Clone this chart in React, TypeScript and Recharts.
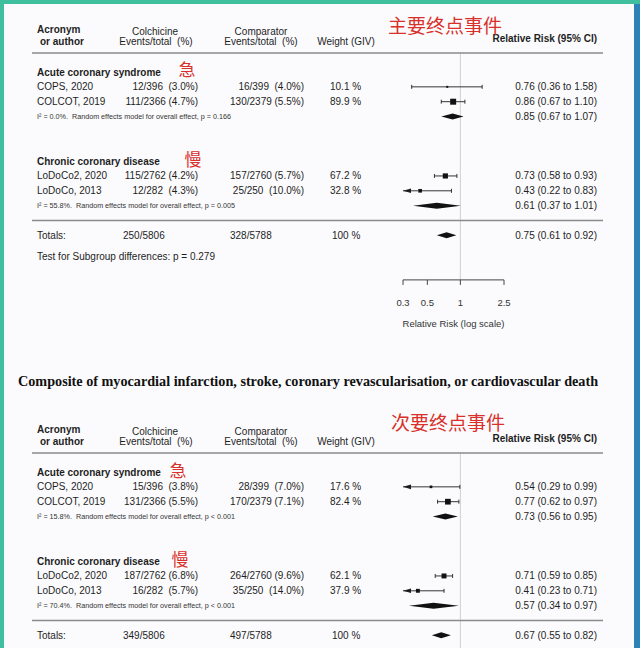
import React from 'react';
import { ComposedChart, XAxis, YAxis, Scatter, ReferenceLine } from 'recharts';

const FONT = '"Liberation Sans", Arial, sans-serif';
const CJK = '"Noto Sans CJK SC", sans-serif';
const INK = '#1e1e1e';
const RED = '#d8302a';

// rows of the table, shared by both panels
const groups = ['Acute coronary syndrome', 'Chronic coronary disease'];
const groupMarks = ['急', '慢'];
const studies = ['COPS, 2020', 'COLCOT, 2019', 'LoDoCo2, 2020', 'LoDoCo, 2013'];
const ticks = [0.3, 0.5, 1, 2.5];

// primary endpoint
const primColchicine = ['12/396  (3.0%)', '111/2366 (4.7%)', '115/2762 (4.2%)', '12/282  (4.3%)'];
const primComparator = ['16/399  (4.0%)', '130/2379 (5.5%)', '157/2760 (5.7%)', '25/250  (10.0%)'];
const primWeight = [10.1, 89.9, 67.2, 32.8];
const primRR = [0.76, 0.86, 0.73, 0.43];
const primLow = [0.36, 0.67, 0.58, 0.22];
const primHigh = [1.58, 1.1, 0.93, 0.83];
const primPoolRR = [0.85, 0.61];
const primPoolLow = [0.67, 0.37];
const primPoolHigh = [1.07, 1.01];
const primHet = ['0.0%', '55.8%'];
const primPoolP = ['p = 0.166', 'p = 0.005'];
const primTotals = ['250/5806', '328/5788'];
const primTotalRR = [0.75, 0.61, 0.92];

// secondary endpoint (composite)
const secColchicine = ['15/396  (3.8%)', '131/2366 (5.5%)', '187/2762 (6.8%)', '16/282  (5.7%)'];
const secComparator = ['28/399  (7.0%)', '170/2379 (7.1%)', '264/2760 (9.6%)', '35/250  (14.0%)'];
const secWeight = [17.6, 82.4, 62.1, 37.9];
const secRR = [0.54, 0.77, 0.71, 0.41];
const secLow = [0.29, 0.62, 0.59, 0.23];
const secHigh = [0.99, 0.97, 0.85, 0.71];
const secPoolRR = [0.73, 0.57];
const secPoolLow = [0.56, 0.34];
const secPoolHigh = [0.95, 0.97];
const secHet = ['15.8%', '70.4%'];
const secPoolP = ['p < 0.001', 'p < 0.001'];
const secTotals = ['349/5806', '497/5788'];
const secTotalRR = [0.67, 0.55, 0.82];

// row slots (in row units of the y axis)
const HEADER_ROW = -2.4;
const HEADER_RULE = -1.28;
const GROUP_ROWS = [0, 6];
const STUDY_ROWS = [1, 2, 7, 8];
const POOL_ROWS = [3, 9];
const SEP_ROW = 10;
const TOTAL_ROW = 11;
const TEST_ROW = 12.4;
const AXIS_ROW = 14;

const X_MIN = 0.3;
const X_MAX = 2.5;

type PanelData = {
  title: string;
  colchicine: string[];
  comparator: string[];
  weight: number[];
  rr: number[];
  low: number[];
  high: number[];
  poolRR: number[];
  poolLow: number[];
  poolHigh: number[];
  het: string[];
  poolP: string[];
  totals: string[];
  totalRR: number[];
  subgroupP: string | null;
  showAxis: boolean;
  titleX: number;
  titleDy: number;
  markX: number[];
  markDy: number[];
};

const primary: PanelData = {
  title: '主要终点事件',
  colchicine: primColchicine, comparator: primComparator, weight: primWeight,
  rr: primRR, low: primLow, high: primHigh,
  poolRR: primPoolRR, poolLow: primPoolLow, poolHigh: primPoolHigh,
  het: primHet, poolP: primPoolP, totals: primTotals, totalRR: primTotalRR,
  subgroupP: 'p = 0.279', showAxis: true,
  titleX: 445, titleDy: -11.4, markX: [187, 193], markDy: [-4, -3],
};

// the secondary panel is cut off by the picture below its totals row
const secondary: PanelData = {
  title: '次要终点事件',
  colchicine: secColchicine, comparator: secComparator, weight: secWeight,
  rr: secRR, low: secLow, high: secHigh,
  poolRR: secPoolRR, poolLow: secPoolLow, poolHigh: secPoolHigh,
  het: secHet, poolP: secPoolP, totals: secTotals, totalRR: secTotalRR,
  subgroupP: null, showAxis: false,
  titleX: 448, titleDy: -14.4, markX: [178, 180], markDy: [-2.5, -3],
};

const fmt = (r: number, lo: number, hi: number) => `${r.toFixed(2)} (${lo.toFixed(2)} to ${hi.toFixed(2)})`;

function T({ x, y, children, anchor = 'start', size = 10, bold = false, color = INK, family = FONT }: any) {
  return (
    <text x={x} y={y} textAnchor={anchor} dominantBaseline="central" fontSize={size}
      fontWeight={bold ? 700 : 400} fill={color} fontFamily={family} style={{ whiteSpace: 'pre' }}>
      {children}
    </text>
  );
}

const ciShape = (cutLo: boolean, cutHi: boolean) => (p: any) => {
  const { x1, x2, y1 } = p;
  return (
    <g>
      <line x1={x1} x2={x2} y1={y1} y2={y1} stroke={INK} strokeWidth={0.9} />
      {cutLo
        ? <polygon points={`${x1},${y1} ${x1 + 8},${y1 - 2.3} ${x1 + 8},${y1 + 2.3}`} fill={INK} />
        : <line x1={x1} x2={x1} y1={y1 - 2} y2={y1 + 2} stroke={INK} strokeWidth={0.9} />}
      {cutHi
        ? <polygon points={`${x2},${y1} ${x2 - 8},${y1 - 2.3} ${x2 - 8},${y1 + 2.3}`} fill={INK} />
        : <line x1={x2} x2={x2} y1={y1 - 2} y2={y1 + 2} stroke={INK} strokeWidth={0.9} />}
    </g>
  );
};

const diamondShape = (lo: number, est: number, hi: number) => (p: any) => {
  const { x1, x2, y1 } = p;
  const xm = x1 + ((x2 - x1) * Math.log(est / lo)) / Math.log(hi / lo);
  return <polygon points={`${x1},${y1} ${xm},${y1 - 3} ${x2},${y1} ${xm},${y1 + 3}`} fill="#111" />;
};

const squareShape = (p: any) => {
  const s = 6.3 * Math.sqrt(p.payload.w / 100);
  return <rect x={p.cx - s / 2} y={p.cy - s / 2} width={s} height={s} fill="#111" />;
};

// text of one table row, drawn at the row's y from the chart's y scale
function rowShape(d: PanelData, r: any) {
  return (p: any) => {
    const cy = p.y1;
    switch (r.kind) {
      case 'header':
        return (
          <g>
            <T x={37} y={cy - 6.4} bold>Acronym</T>
            <T x={40} y={cy + 5.6} bold>or author</T>
            <T x={155} y={cy - 5} anchor="middle">Colchicine</T>
            <T x={156} y={cy + 5.6} anchor="middle">{'Events/total  (%)'}</T>
            <T x={261} y={cy - 5} anchor="middle">Comparator</T>
            <T x={261} y={cy + 5.6} anchor="middle">{'Events/total  (%)'}</T>
            <T x={346} y={cy + 5.6} anchor="middle">Weight (GIV)</T>
            <T x={597} y={cy + 2.6} anchor="end" bold>Relative Risk (95% CI)</T>
            <T x={d.titleX} y={cy + d.titleDy} anchor="middle" size={19} color={RED} family={CJK}>{d.title}</T>
          </g>
        );
      case 'rule':
        return <line x1={32} x2={603} y1={cy} y2={cy} stroke="#8a8a8a" strokeWidth={1.3} />;
      case 'group':
        return (
          <g>
            <T x={37} y={cy} bold>{groups[r.i]}</T>
            <T x={d.markX[r.i]} y={cy + d.markDy[r.i]} anchor="middle" size={17} color={RED} family={CJK}>{groupMarks[r.i]}</T>
          </g>
        );
      case 'study':
        return (
          <g>
            <T x={37} y={cy}>{studies[r.i]}</T>
            <T x={198} y={cy} anchor="end">{d.colchicine[r.i]}</T>
            <T x={304} y={cy} anchor="end">{d.comparator[r.i]}</T>
            <T x={330} y={cy}>{`${d.weight[r.i].toFixed(1)} %`}</T>
            <T x={597} y={cy} anchor="end">{fmt(d.rr[r.i], d.low[r.i], d.high[r.i])}</T>
          </g>
        );
      case 'pool':
        return (
          <g>
            <T x={37} y={cy} size={7.2} color="#333">
              {`I² = ${d.het[r.i]}.  Random effects model for overall effect, ${d.poolP[r.i]}`}
            </T>
            <T x={597} y={cy} anchor="end">{fmt(d.poolRR[r.i], d.poolLow[r.i], d.poolHigh[r.i])}</T>
          </g>
        );
      case 'total':
        return (
          <g>
            <T x={37} y={cy}>Totals:</T>
            <T x={123} y={cy}>{d.totals[0]}</T>
            <T x={230} y={cy}>{d.totals[1]}</T>
            <T x={332} y={cy}>100 %</T>
            <T x={597} y={cy} anchor="end">{fmt(d.totalRR[0], d.totalRR[1], d.totalRR[2])}</T>
          </g>
        );
      case 'test':
        return <T x={37} y={cy}>{`Test for Subgroup differences: ${d.subgroupP}`}</T>;
      default:
        return <g />;
    }
  };
}

function Panel({ d }: { d: PanelData }) {
  const rows: any[] = [
    { y: HEADER_ROW, kind: 'header' },
    { y: HEADER_RULE, kind: 'rule' },
    ...GROUP_ROWS.map((y, i) => ({ y, kind: 'group', i })),
    ...STUDY_ROWS.map((y, i) => ({ y, kind: 'study', i })),
    ...POOL_ROWS.map((y, i) => ({ y, kind: 'pool', i })),
    { y: SEP_ROW, kind: 'rule' },
    { y: TOTAL_ROW, kind: 'total' },
  ];
  if (d.subgroupP) rows.push({ y: TEST_ROW, kind: 'test' });

  const points = studies.map((_, i) => ({ x: d.rr[i], y: STUDY_ROWS[i], w: d.weight[i] }));

  return (
    <ComposedChart width={640} height={340} margin={{ top: 27.45, right: 136, bottom: 5.1, left: 403 }}>
      <XAxis type="number" dataKey="x" scale="log" domain={[X_MIN, X_MAX]} ticks={ticks} allowDataOverflow
        tickSize={5} tickMargin={14} height={55} stroke="#444"
        tick={d.showAxis ? { fontSize: 9.5, fill: '#333', fontFamily: FONT } : false}
        label={d.showAxis ? { value: 'Relative Risk (log scale)', position: 'insideBottom', offset: 8, fontSize: 9.5, fill: '#333', fontFamily: FONT } : undefined} />
      <YAxis type="number" dataKey="y" domain={[-3, AXIS_ROW]} reversed hide allowDataOverflow />
      <ReferenceLine segment={[{ x: 1, y: HEADER_RULE }, { x: 1, y: AXIS_ROW }]} stroke="#c4c4c4" strokeWidth={0.8} ifOverflow="visible" />
      {rows.map((r, k) => (
        <ReferenceLine key={`row-${k}`} y={r.y} ifOverflow="visible" shape={rowShape(d, r)} />
      ))}
      {studies.map((s, i) => {
        const lo = Math.max(d.low[i], X_MIN);
        const hi = Math.min(d.high[i], X_MAX);
        return (
          <ReferenceLine key={s} ifOverflow="visible"
            segment={[{ x: lo, y: STUDY_ROWS[i] }, { x: hi, y: STUDY_ROWS[i] }]}
            shape={ciShape(d.low[i] < X_MIN, d.high[i] > X_MAX)} />
        );
      })}
      {POOL_ROWS.map((y, i) => (
        <ReferenceLine key={`pool-${i}`} ifOverflow="visible"
          segment={[{ x: d.poolLow[i], y }, { x: d.poolHigh[i], y }]}
          shape={diamondShape(d.poolLow[i], d.poolRR[i], d.poolHigh[i])} />
      ))}
      <ReferenceLine ifOverflow="visible"
        segment={[{ x: d.totalRR[1], y: TOTAL_ROW }, { x: d.totalRR[2], y: TOTAL_ROW }]}
        shape={diamondShape(d.totalRR[1], d.totalRR[0], d.totalRR[2])} />
      <Scatter data={points} shape={squareShape} isAnimationActive={false} />
    </ComposedChart>
  );
}

export default function App() {
  return (
    <div style={{ position: 'absolute', left: 0, top: 0, width: 640, height: 648, background: '#fbfbfd', overflow: 'hidden' }}>
      <div style={{ position: 'absolute', left: 0, top: 0 }}>
        <Panel d={primary} />
      </div>
      <div style={{
        position: 'absolute', left: 18, top: 372, whiteSpace: 'nowrap', color: '#111',
        fontFamily: '"Liberation Serif", "Times New Roman", serif', fontWeight: 700, fontSize: 14.2, lineHeight: '18px',
      }}>
        Composite of myocardial infarction, stroke, coronary revascularisation, or cardiovascular death
      </div>
      <div style={{ position: 'absolute', left: 0, top: 400, width: 640, height: 248, overflow: 'hidden' }}>
        <Panel d={secondary} />
      </div>
      <div style={{ position: 'absolute', left: 0, top: 0, width: 640, height: 4, background: '#3fbf9e' }} />
      <div style={{ position: 'absolute', left: 0, top: 0, width: 4, height: 648, background: '#3fbf9e' }} />
      <div style={{ position: 'absolute', left: 634, top: 4, width: 6, height: 644, background: '#2a82b6' }} />
    </div>
  );
}
